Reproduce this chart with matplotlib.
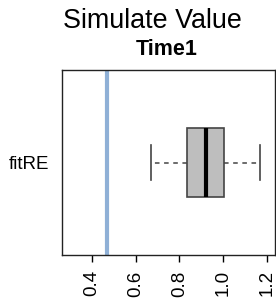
import matplotlib
matplotlib.use("Agg")
import matplotlib.pyplot as plt

# box statistics
whisker_lo = 0.671
q1 = 0.837
median = 0.922
q3 = 1.004
whisker_hi = 1.167
true_value = 0.468
label = "fitRE"
xticks = [0.4, 0.6, 0.8, 1.0, 1.2]

plt.rcParams['font.family'] = ['Liberation Sans', 'DejaVu Sans']

fig = plt.figure(figsize=(2.76, 3.01), dpi=100)
ax = fig.add_axes([61.7 / 276, 46 / 301, 213.3 / 276, 185 / 301])

stats = [dict(med=median, q1=q1, q3=q3, whislo=whisker_lo, whishi=whisker_hi,
              fliers=[], label=label)]
ax.bxp(stats, positions=[1], widths=0.4, vert=False, patch_artist=True,
       boxprops=dict(facecolor='#bebebe', edgecolor='#444444', linewidth=1.2),
       medianprops=dict(color='black', linewidth=3),
       whiskerprops=dict(color='#444444', linestyle=(0, (3, 3)), linewidth=1.1),
       capprops=dict(color='#444444', linewidth=1.2), capwidths=0.2)

ax.axvline(true_value, color='#8fb0d6', linewidth=3)

ax.set_xlim(0.263, 1.237)
ax.set_ylim(0.46, 1.54)
ax.set_xticks(xticks)
ax.set_xticklabels([f"{v:.1f}" for v in xticks], rotation=90, fontsize=13.5)
ax.set_yticks([1])
ax.set_yticklabels([label], fontsize=13.5)
ax.tick_params(axis='y', length=0, pad=9)
ax.tick_params(axis='x', length=5, width=1, pad=6)
for s in ax.spines.values():
    s.set_linewidth(1)
    s.set_color('#222222')

fig.text(152.5 / 276, 1 - 28 / 301, "Simulate Value", ha='center',
         va='baseline', fontsize=19.4)
fig.text(166.5 / 276, 1 - 55 / 301, "Time1", ha='center',
         va='baseline', fontsize=15.5, fontweight='bold')

fig.savefig("out.png", dpi=100)
